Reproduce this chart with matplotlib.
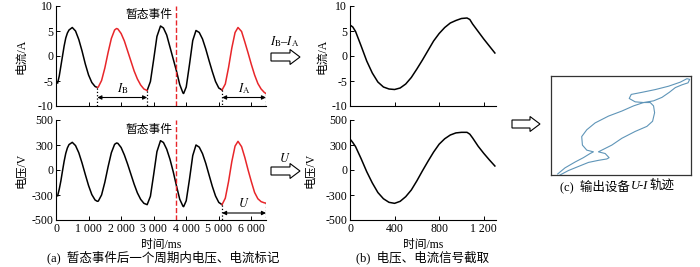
import numpy as np
import matplotlib
matplotlib.use('Agg')
import matplotlib.pyplot as plt
from matplotlib.patches import FancyArrow

plt.rcParams['font.family'] = ['Liberation Serif', 'Noto Sans CJK SC']
plt.rcParams['mathtext.fontset'] = 'stix'
plt.rcParams['axes.unicode_minus'] = False
plt.rcParams['font.size'] = 8

# (a) 电流 / 电压, time in ms
t_a = [50, 100, 150, 200, 250, 300, 350, 400, 500, 600, 700, 800, 900, 1000, 1100, 1200,
       1270, 1300, 1400, 1500, 1600, 1700, 1800, 1860, 1900, 2000, 2100, 2200, 2300, 2400,
       2500, 2600, 2700, 2800, 2900, 3000, 3100, 3210, 3300, 3400, 3500, 3600, 3700, 3800,
       3900, 3920, 4000, 4100, 4200, 4300, 4400, 4500, 4600, 4700, 4800, 4900, 5000, 5100,
       5200, 5300, 5400, 5500, 5590, 5700, 5800, 5900, 6000, 6100, 6200, 6300, 6400, 6450]
i_a = [-5.4, -4.0, -2.0, 0.0, 2.0, 3.6, 4.6, 5.2, 5.7, 5.0, 3.3, 1.0, -1.6, -3.8, -5.3, -6.1,
       -6.3, -6.2, -4.9, -2.4, 0.7, 3.5, 5.2, 5.5, 5.4, 4.5, 3.0, 1.0, -1.0, -3.0,
       -4.6, -5.8, -6.6, -6.9, -5.1, -0.7, 3.9, 6.0, 5.6, 4.2, 1.8, -0.6, -3.0, -5.7,
       -7.4, -7.5, -6.2, -1.7, 3.1, 5.1, 4.7, 3.4, 1.4, -0.9, -3.1, -5.1, -6.4, -6.8,
       -5.6, -2.3, 1.6, 4.7, 5.7, 4.9, 2.8, 0.6, -1.7, -3.8, -5.5, -6.6, -7.3, -7.5]
u_a = [-310, -230, -130, -10, 105, 200, 265, 305, 332, 293, 207, 84, -54, -187, -295, -360,
       -376, -373, -299, -147, 39, 207, 308, 324, 320, 270, 180, 70, -50, -170,
       -275, -352, -400, -416, -315, -54, 220, 352, 330, 250, 130, -20, -190, -350,
       -435, -440, -369, -111, 173, 300, 274, 196, 80, -58, -195, -312, -389, -416,
       -338, -139, 101, 287, 344, 280, 150, 0, -140, -270, -345, -380, -394, -398]

t_event = 3700
ib_span = (1270, 2800)
ia_span = (5100, 6450)
u_span = (5100, 6450)

# (b) 截取后的信号
t_b = [0, 25, 50, 100, 150, 200, 250, 300, 350, 400, 450, 500, 550, 600, 650, 700, 750,
       800, 850, 900, 950, 1000, 1050, 1075, 1100, 1150, 1200, 1250, 1300]
i_b = [6.2, 5.8, 4.9, 2.0, -1.0, -3.4, -5.2, -6.2, -6.6, -6.7, -6.4, -5.6, -4.3, -2.6, -0.8,
       1.1, 3.0, 4.5, 5.7, 6.6, 7.1, 7.5, 7.6, 7.3, 6.4, 4.9, 3.4, 2.0, 0.6]
u_b = [372, 330, 280, 135, -20, -155, -270, -345, -388, -400, -376, -320, -240, -130, -10,
       105, 215, 310, 375, 420, 445, 452, 452, 430, 385, 285, 200, 122, 48]

# (c) U-I 轨迹
traj_i = [-6.97, -6.01, -4.87, -3.72, -2.58, -1.62, -1.36, -1.81, -2.58, -1.05, 0.10, 1.62,
          2.96, 3.61, 3.84, 3.72, 3.34, 2.58, 1.62, 0.94, 1.17, 2.39, 3.92, 5.44, 6.78,
          7.54, 7.85, 7.66, 6.97, 6.21, 5.52, 4.68, 3.72, 2.58, 1.43, 0.10, -1.43, -2.96,
          -3.91, -4.49, -4.41, -3.91, -3.15, -3.53, -4.30, -5.25, -6.40, -7.24]
traj_u = [-500, -455, -414, -373, -352, -338, -325, -283, -266, -198, -129, -60,
          -9, 43, 129, 198, 232, 232, 239, 273, 314, 335, 363, 397, 438,
          473, 466, 431, 411, 383, 335, 284, 249, 232, 198, 146, 95, 26,
          -43, -112, -198, -249, -266, -283, -325, -369, -428, -490]

xt_a = [0, 1000, 2000, 3000, 4000, 5000, 6000]
xt_a_lab = ['0', '1 000', '2 000', '3 000', '4 000', '5 000', '6 000']
xt_b = [0, 400, 800, 1200]
xt_b_lab = ['0', '400', '800', '1 200']
yt_i = [-10, -5, 0, 5, 10]
yt_u = [-600, -300, 0, 300, 600]
yt_u_lab = ['-500', '-300', '0', '300', '500']

RED = '#e8262a'
LW = 1.1
fig = plt.figure(figsize=(7, 2.67), dpi=100)


def px(l, t, r, b):
    return [l / 700, 1 - b / 267, (r - l) / 700, (b - t) / 267]


def style(ax):
    for s in ['top', 'right']:
        ax.spines[s].set_visible(False)
    for s in ['left', 'bottom']:
        ax.spines[s].set_linewidth(0.8)
    ax.tick_params(direction='in', length=3, width=0.7, pad=2, labelsize=8.5)


ax1 = fig.add_axes(px(56, 6, 266, 106))
ax2 = fig.add_axes(px(56, 120, 266, 220))
ax3 = fig.add_axes(px(350, 6, 496, 106))
ax4 = fig.add_axes(px(350, 120, 496, 220))
ax5 = fig.add_axes(px(551, 76, 691, 175))

ta = np.array(t_a)
ia = np.array(i_a)
ua = np.array(u_a)


def seg(lo, hi):
    return (ta >= lo) & (ta <= hi)


# --- (a) current
ax1.plot(ta[seg(0, ib_span[0])], ia[seg(0, ib_span[0])], color='k', lw=LW)
ax1.plot(ta[seg(ib_span[1], ia_span[0])], ia[seg(ib_span[1], ia_span[0])], color='k', lw=LW)
for sp in [ib_span, ia_span]:
    m = seg(*sp)
    ax1.plot(ta[m], ia[m], color=RED, lw=LW)
    for x in sp:
        ax1.plot([x, x], [np.interp(x, ta, ia), -10], 'k:', lw=0.9)
    ax1.annotate('', xy=(sp[1], -8.3), xytext=(sp[0], -8.3),
                 arrowprops=dict(arrowstyle='<|-|>', color='k', lw=0.8, mutation_scale=6,
                                 shrinkA=0, shrinkB=0))
ax1.text(sum(ib_span) / 2, -6.6, r'$I_{\rm B}$', ha='center', va='center', fontsize=9)
ax1.text(sum(ia_span) / 2, -6.6, r'$I_{\rm A}$', ha='center', va='center', fontsize=9)
ax1.axvline(t_event, color=RED, ls='--', lw=1.0)
ax1.text(t_event - 130, 8.2, '暂态事件', ha='right', va='center', fontsize=8.5)
ax1.set_xlim(0, 6450)
ax1.set_ylim(-10, 10)
ax1.set_xticks(xt_a)
ax1.set_xticklabels([])
ax1.set_yticks(yt_i)
ax1.set_ylabel('电流/A', fontsize=8.5)
ax1.yaxis.set_label_coords(-0.135, 0.5)
style(ax1)

# --- (a) voltage
ax2.plot(ta[seg(0, u_span[0])], ua[seg(0, u_span[0])], color='k', lw=LW)
m = seg(*u_span)
ax2.plot(ta[m], ua[m], color=RED, lw=LW)
for x in u_span:
    ax2.plot([x, x], [np.interp(x, ta, ua), -600], 'k:', lw=0.9)
ax2.annotate('', xy=(u_span[1], -516), xytext=(u_span[0], -516),
             arrowprops=dict(arrowstyle='<|-|>', color='k', lw=0.8, mutation_scale=6,
                             shrinkA=0, shrinkB=0))
ax2.text(sum(u_span) / 2, -400, r'$U$', ha='center', va='center', fontsize=9)
ax2.axvline(t_event, color=RED, ls='--', lw=1.0)
ax2.text(t_event - 130, 480, '暂态事件', ha='right', va='center', fontsize=8.5)
ax2.set_xlim(0, 6450)
ax2.set_ylim(-600, 600)
ax2.set_xticks(xt_a)
ax2.set_xticklabels(xt_a_lab)
ax2.set_yticks(yt_u)
ax2.set_yticklabels(yt_u_lab)
ax2.set_ylabel('电压/V', fontsize=8.5)
ax2.yaxis.set_label_coords(-0.135, 0.5)
ax2.set_xlabel('时间/ms', fontsize=8.5, labelpad=3)
style(ax2)

# --- (b)
ax3.plot(t_b, i_b, color='k', lw=LW)
ax3.set_xlim(0, 1310)
ax3.set_ylim(-10, 10)
ax3.set_xticks(xt_b)
ax3.set_xticklabels([])
ax3.set_yticks(yt_i)
ax3.set_ylabel('电流/A', fontsize=8.5)
ax3.yaxis.set_label_coords(-0.15, 0.5)
style(ax3)

ax4.plot(t_b, u_b, color='k', lw=LW)
ax4.set_xlim(0, 1310)
ax4.set_ylim(-600, 600)
ax4.set_xticks(xt_b)
ax4.set_xticklabels(xt_b_lab)
ax4.set_yticks(yt_u)
ax4.set_yticklabels(yt_u_lab)
ax4.set_ylabel('电压/V', fontsize=8.5)
ax4.yaxis.set_label_coords(-0.235, 0.5)
ax4.set_xlabel('时间/ms', fontsize=8.5, labelpad=3)
style(ax4)

# --- (c)
ax5.plot(traj_i, traj_u, color='#5f95b8', lw=0.8)
ax5.set_xlim(-8, 8)
ax5.set_ylim(-500, 500)
ax5.set_xticks([])
ax5.set_yticks([])
for s in ax5.spines.values():
    s.set_linewidth(0.9)
    s.set_color('#333333')

# hollow arrows between panels (pixel overlay)
ov = fig.add_axes([0, 0, 1, 1])
ov.set_xlim(0, 700)
ov.set_ylim(267, 0)
ov.axis('off')
for x0, x1, y in [(271, 300, 57), (271, 300, 171), (512, 540, 124)]:
    ov.add_patch(FancyArrow(x0, y, x1 - x0, 0, width=8, head_width=15, head_length=10,
                            length_includes_head=True, fc='white', ec='black', lw=0.8))
ov.text(285, 42, r'$I_{\rm B}$–$I_{\rm A}$', ha='center', va='center', fontsize=9)
ov.text(285, 159, r'$U$', ha='center', va='center', fontsize=9)

fig.text(163 / 700, 1 - 257 / 267, '(a)  暂态事件后一个周期内电压、电流标记', ha='center', va='center', fontsize=9)
fig.text(423 / 700, 1 - 257 / 267, '(b)  电压、电流信号截取', ha='center', va='center', fontsize=9)

# (c) caption: mixed CJK and italic U-I, laid out piece by piece
renderer = fig.canvas.get_renderer()
parts = [('(c)  输出设备', 'normal'), ('U-I', 'italic'), ('轨迹', 'normal')]
pieces = []
x = 0
for s, st in parts:
    tt = ov.text(x, 186, s, ha='left', va='center', fontsize=9, style=st)
    w = tt.get_window_extent(renderer).width
    pieces.append((tt, x))
    x += w + 1
x_start = 618 - x / 2
for tt, off in pieces:
    tt.set_x(x_start + off)

fig.savefig('out.png', dpi=100)
